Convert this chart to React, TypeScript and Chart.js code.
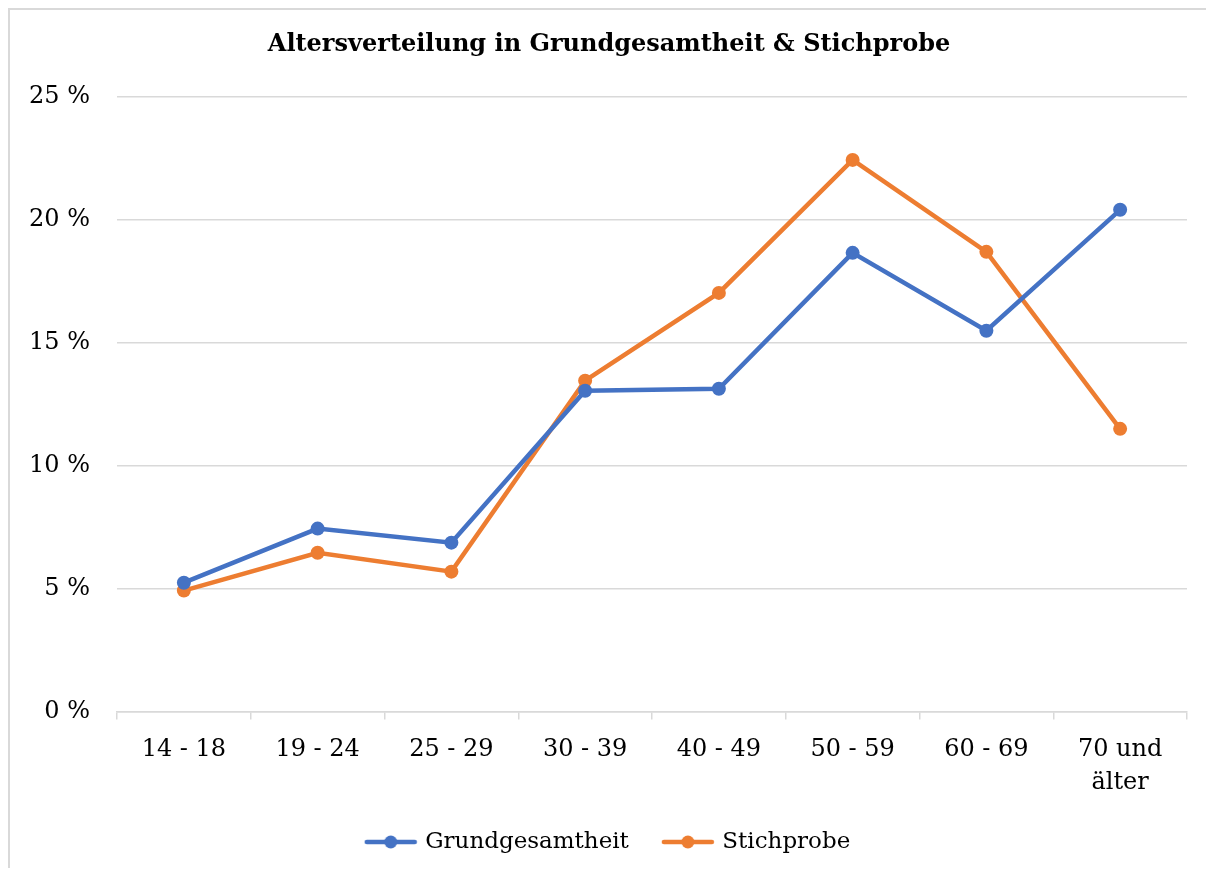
import React, { useEffect, useRef } from 'react';
import { Chart, registerables } from 'chart.js';

Chart.register(...registerables);

const chartTitle = 'Altersverteilung in Grundgesamtheit & Stichprobe';
const categories: (string | string[])[] = ['14 - 18', '19 - 24', '25 - 29', '30 - 39', '40 - 49', '50 - 59', '60 - 69', ['70 und', 'älter']];
const grundgesamtheit = [5.24, 7.44, 6.87, 13.05, 13.13, 18.66, 15.49, 20.41];
const stichprobe = [4.92, 6.46, 5.69, 13.46, 17.03, 22.44, 18.7, 11.5];
const seriesNames = ['Grundgesamtheit', 'Stichprobe'];
const seriesColors = ['#4472C4', '#ED7D31'];
const yMin = 0;
const yMax = 25;
const yStep = 5;

const FONT = "'DejaVu Serif', serif";

function legendImage(color: string) {
  const c = document.createElement('canvas');
  c.width = 54;
  c.height = 16;
  const ctx = c.getContext('2d')!;
  ctx.strokeStyle = color;
  ctx.lineWidth = 4.5;
  ctx.lineCap = 'round';
  ctx.beginPath();
  ctx.moveTo(3, 8);
  ctx.lineTo(51, 8);
  ctx.stroke();
  ctx.fillStyle = color;
  ctx.beginPath();
  ctx.arc(27, 8, 6.5, 0, Math.PI * 2);
  ctx.fill();
  return c;
}

export default function App() {
  const ref = useRef<HTMLCanvasElement>(null);

  useEffect(() => {
    if (!ref.current) return;
    const images = seriesColors.map(legendImage);
    const chart = new Chart(ref.current, {
      type: 'line',
      data: {
        labels: categories,
        datasets: [grundgesamtheit, stichprobe].map((d, i) => ({
          label: seriesNames[i],
          data: d,
          borderColor: seriesColors[i],
          backgroundColor: seriesColors[i],
          borderWidth: 4.5,
          pointRadius: 7,
          pointHoverRadius: 7,
          pointBorderWidth: 0,
          pointBackgroundColor: seriesColors[i],
          tension: 0,
          fill: false,
          yAxisID: 'y',
        })),
      },
      options: {
        animation: false,
        responsive: false,
        maintainAspectRatio: false,
        layout: { padding: { left: 0, right: 0, top: 0, bottom: 4.5 } },
        plugins: {
          title: {
            display: true,
            text: chartTitle,
            color: '#000',
            font: { family: FONT, size: 24, weight: 'bold' },
            padding: { top: 20.6, bottom: 37.6 },
          },
          legend: {
            display: true,
            position: 'bottom',
            labels: {
              color: '#000',
              font: { family: FONT, size: 23 },
              usePointStyle: true,
              pointStyleWidth: 46,
              padding: 36,
              generateLabels: (ch: any) =>
                ch.data.datasets.map((ds: any, i: number) => ({
                  text: ds.label,
                  pointStyle: images[i],
                  fillStyle: seriesColors[i],
                  strokeStyle: seriesColors[i],
                  lineWidth: 0,
                  hidden: false,
                  datasetIndex: i,
                  fontColor: '#000',
                })),
            },
          },
          tooltip: { enabled: false },
        },
        scales: {
          x: {
            offset: true,
            grid: {
              display: true,
              drawOnChartArea: false,
              drawTicks: true,
              tickLength: 8,
              color: '#d9d9d9',
              lineWidth: 1.5,
              offset: true,
            },
            border: { display: true, color: '#d9d9d9', width: 1.5 },
            ticks: {
              color: '#000',
              font: { family: FONT, size: 24, lineHeight: 1.4 },
              padding: 13,
              maxRotation: 0,
              autoSkip: false,
            },
            afterFit: (s: any) => {
              s.height = 83;
            },
          },
          y: {
            min: yMin,
            max: yMax,
            grid: { color: '#d9d9d9', lineWidth: 1.5, drawTicks: false },
            border: { display: false },
            ticks: {
              stepSize: yStep,
              color: '#000',
              font: { family: FONT, size: 24 },
              padding: 27,
              callback: (v: any) => `${v} %`,
            },
            afterFit: (s: any) => {
              s.width = 107;
            },
          },
          yRight: {
            position: 'right',
            display: true,
            grid: { display: false },
            border: { display: false },
            ticks: { display: false },
            afterFit: (s: any) => {
              s.width = 21;
            },
          },
        },
      },
    } as any);
    return () => chart.destroy();
  }, []);

  return (
    <div
      style={{
        width: 1198,
        height: 858,
        borderTop: '2px solid #d9d9d9',
        borderLeft: '2px solid #d9d9d9',
        background: '#fff',
      }}
    >
      <canvas ref={ref} width={1198} height={858} style={{ display: 'block', width: 1198, height: 858 }} />
    </div>
  );
}
